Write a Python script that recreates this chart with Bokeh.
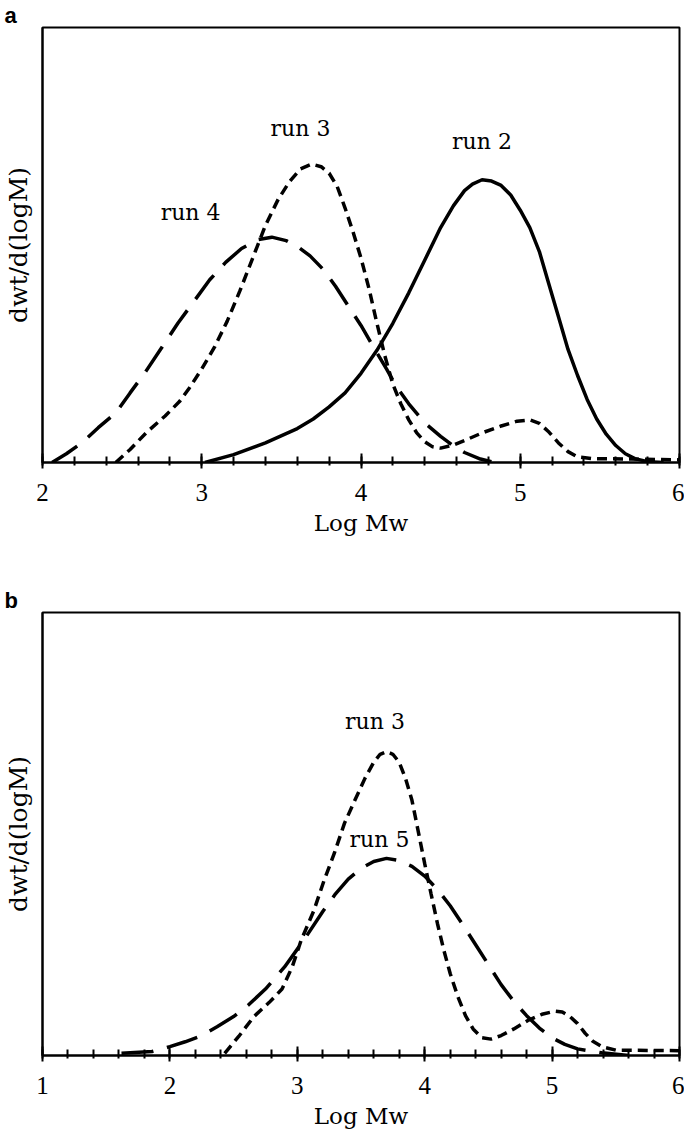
from bokeh.plotting import figure
from bokeh.models import Range1d, FixedTicker, Label
from bokeh.layouts import column
from bokeh.embed import file_html
from bokeh.resources import INLINE

# ---------------- data (normalized height) ----------------
# Panel a
a_run2_x = [3.02, 3.2, 3.4, 3.6, 3.7, 3.8, 3.9, 4.0, 4.1, 4.2, 4.3, 4.4, 4.5, 4.58, 4.65, 4.7,
            4.76, 4.82, 4.88, 4.94, 5.0, 5.06, 5.12, 5.18, 5.24, 5.3, 5.36, 5.42, 5.48, 5.54,
            5.6, 5.66, 5.72, 5.8, 5.9]
a_run2_y = [0.0, 0.018, 0.045, 0.078, 0.10, 0.128, 0.16, 0.205, 0.258, 0.32, 0.39, 0.465, 0.54,
            0.59, 0.625, 0.64, 0.65, 0.647, 0.637, 0.615, 0.58, 0.54, 0.485, 0.41, 0.335, 0.26,
            0.2, 0.145, 0.1, 0.065, 0.039, 0.02, 0.009, 0.002, 0.0]

a_run3_x = [2.46, 2.55, 2.65, 2.77, 2.86, 2.92, 3.0, 3.08, 3.16, 3.24, 3.32, 3.40, 3.48, 3.55,
            3.62, 3.69, 3.75, 3.80, 3.85, 3.90, 3.95, 4.0, 4.05, 4.1, 4.15, 4.2, 4.25, 4.3,
            4.35, 4.4, 4.45, 4.5, 4.58, 4.66, 4.76, 4.88, 4.98, 5.06, 5.12, 5.18, 5.24, 5.3,
            5.36, 5.45, 5.7, 6.0]
a_run3_y = [0.0, 0.03, 0.068, 0.107, 0.14, 0.17, 0.215, 0.265, 0.325, 0.395, 0.47, 0.545, 0.605,
            0.645, 0.675, 0.686, 0.68, 0.665, 0.635, 0.585, 0.53, 0.47, 0.40, 0.32, 0.245, 0.18,
            0.135, 0.098, 0.068, 0.048, 0.036, 0.033, 0.04, 0.052, 0.068, 0.084, 0.095, 0.098,
            0.09, 0.07, 0.045, 0.025, 0.013, 0.009, 0.008, 0.006]

a_run4_x = [2.06, 2.15, 2.25, 2.35, 2.46, 2.55, 2.65, 2.75, 2.85, 2.95, 3.05, 3.15, 3.25, 3.35,
            3.44, 3.53, 3.6, 3.68, 3.76, 3.84, 3.92, 4.0, 4.09, 4.16, 4.22, 4.3, 4.4, 4.5,
            4.57, 4.65, 4.75, 4.84]
a_run4_y = [0.0, 0.02, 0.046, 0.08, 0.114, 0.16, 0.21, 0.265, 0.32, 0.37, 0.42, 0.46, 0.492,
            0.512, 0.518, 0.51, 0.497, 0.475, 0.445, 0.405, 0.36, 0.315, 0.258, 0.215, 0.176,
            0.135, 0.091, 0.06, 0.041, 0.023, 0.008, 0.0]

# Panel b
b_run3_x = [2.43, 2.54, 2.66, 2.78, 2.88, 2.96, 3.03, 3.13, 3.21, 3.29, 3.37, 3.45, 3.53, 3.6,
            3.65, 3.7, 3.75, 3.8, 3.85, 3.9, 3.95, 4.0, 4.05, 4.1, 4.15, 4.2, 4.26, 4.32, 4.38,
            4.45, 4.52, 4.6, 4.7, 4.81, 4.92, 5.02, 5.08, 5.14, 5.2, 5.26, 5.32, 5.39, 5.5, 6.0]
b_run3_y = [0.005, 0.043, 0.088, 0.12, 0.15, 0.2, 0.26, 0.327, 0.395, 0.456, 0.524, 0.575, 0.625,
            0.662, 0.68, 0.686, 0.68, 0.662, 0.625, 0.576, 0.505, 0.433, 0.365, 0.298, 0.238,
            0.185, 0.133, 0.09, 0.06, 0.04, 0.037, 0.045, 0.06, 0.079, 0.093, 0.1, 0.098, 0.088,
            0.072, 0.05, 0.032, 0.02, 0.012, 0.011]

b_run5_x = [1.62, 1.86, 2.0, 2.12, 2.25, 2.37, 2.5, 2.62, 2.75, 2.9, 3.05, 3.2, 3.3, 3.4, 3.5,
            3.6, 3.7, 3.8, 3.9, 4.0, 4.1, 4.2, 4.3, 4.4, 4.5, 4.6, 4.7, 4.8, 4.9, 5.0, 5.1,
            5.2, 5.39, 5.6]
b_run5_y = [0.005, 0.009, 0.02, 0.031, 0.045, 0.065, 0.088, 0.115, 0.15, 0.2, 0.26, 0.325, 0.365,
            0.398, 0.422, 0.438, 0.445, 0.44, 0.427, 0.405, 0.375, 0.338, 0.295, 0.25, 0.205,
            0.16, 0.122, 0.09, 0.062, 0.04, 0.025, 0.015, 0.006, 0.0]

a_major = [2, 3, 4, 5, 6]
b_major = [1, 2, 3, 4, 5, 6]

SERIF = "DejaVu Serif"
TICKFONT = "Liberation Serif"


def make_fig(x0, x1, major, mbt, fh, mbb, panel):
    p = figure(frame_width=637, frame_height=fh, x_range=Range1d(x0, x1), y_range=Range1d(0, 1),
               output_backend="svg", toolbar_location=None,
               min_border_left=40, min_border_right=5, min_border_top=mbt, min_border_bottom=mbb)
    p.xgrid.visible = False
    p.ygrid.visible = False
    p.outline_line_color = "black"
    p.outline_line_width = 2
    p.outline_line_alpha = 1
    p.background_fill_color = "white"
    p.border_fill_color = "white"

    p.title.text = panel
    p.title.align = "left"
    p.title.offset = -38
    p.title.standoff = 0
    p.title.text_font = "Liberation Sans"
    p.title.text_font_style = "bold"
    p.title.text_font_size = "22px"
    p.title.text_color = "black"

    minor = [round(x0 + 0.2 * i, 1) for i in range(int(round((x1 - x0) / 0.2)) + 1)]
    xa = p.xaxis[0]
    xa.ticker = FixedTicker(ticks=major, minor_ticks=minor)
    xa.axis_line_color = "black"
    xa.axis_line_width = 2
    xa.major_tick_line_color = "black"
    xa.major_tick_line_width = 2
    xa.minor_tick_line_color = "black"
    xa.minor_tick_line_width = 2
    xa.major_tick_in = 9
    xa.major_tick_out = 6
    xa.minor_tick_in = 6
    xa.minor_tick_out = 3
    xa.major_label_text_font = TICKFONT
    xa.major_label_text_font_size = "25px"
    xa.major_label_text_color = "black"
    xa.major_label_standoff = 15
    xa.axis_label = "Log Mw"
    xa.axis_label_text_font = SERIF
    xa.axis_label_text_font_size = "23px"
    xa.axis_label_text_font_style = "normal"
    xa.axis_label_text_color = "black"
    xa.axis_label_standoff = 6

    ya = p.yaxis[0]
    ya.ticker = FixedTicker(ticks=[])
    ya.major_tick_in = 0
    ya.major_tick_out = 0
    ya.minor_tick_in = 0
    ya.minor_tick_out = 0
    ya.major_label_standoff = 0
    ya.axis_line_color = "black"
    ya.axis_line_width = 2
    ya.axis_label = "dwt/d(logM)"
    ya.axis_label_text_font = SERIF
    ya.axis_label_text_font_size = "25px"
    ya.axis_label_text_font_style = "normal"
    ya.axis_label_text_color = "black"
    ya.axis_label_standoff = 10
    return p


def add_text(p, x, y, t):
    p.add_layout(Label(x=x, y=y, text=t, text_font=SERIF, text_font_size="22px",
                       text_align="center", text_baseline="middle", text_color="black"))


# ---------------- panel a ----------------
pa = make_fig(2, 6, a_major, 22, 435, 100, "a")
pa.line(a_run2_x, a_run2_y, line_color="black", line_width=3.5)
pa.line(a_run3_x, a_run3_y, line_color="black", line_width=3.5, line_dash="10 6")
pa.line(a_run4_x, a_run4_y, line_color="black", line_width=3.5, line_dash="30 14")
add_text(pa, 2.93, 0.575, "run 4")
add_text(pa, 3.62, 0.767, "run 3")
add_text(pa, 4.76, 0.737, "run 2")

# ---------------- panel b ----------------
pb = make_fig(1, 6, b_major, 50, 443, 80, "b")
pb.line(b_run3_x, b_run3_y, line_color="black", line_width=3.5, line_dash="10 6")
pb.line(b_run5_x, b_run5_y, line_color="black", line_width=3.5, line_dash="32 14")
add_text(pb, 3.61, 0.754, "run 3")
add_text(pb, 3.645, 0.488, "run 5")

layout = column(pa, pb)
open("out.html", "w").write(file_html(layout, INLINE))
